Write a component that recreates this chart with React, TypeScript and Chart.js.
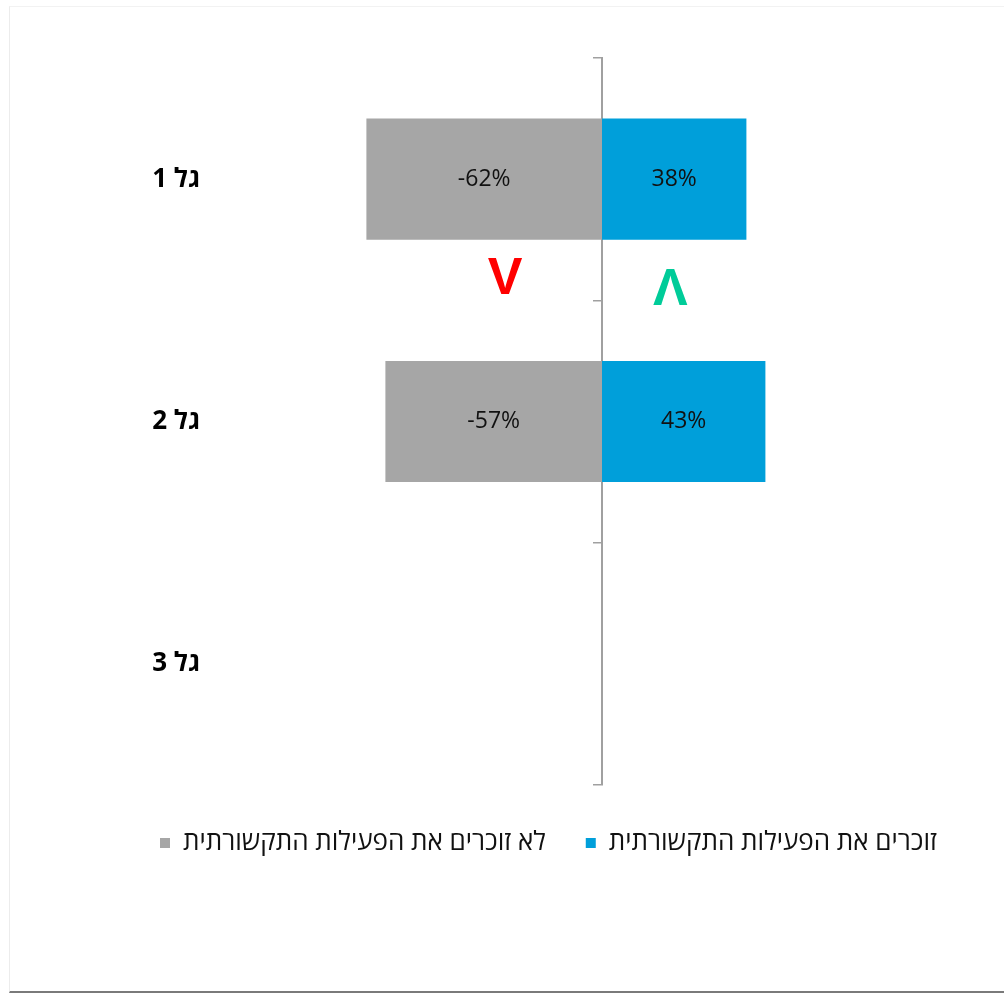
import React, { useEffect, useRef } from 'react';
import { Chart, registerables } from 'chart.js';

Chart.register(...registerables);

const categories = ['גל 1', 'גל 2', 'גל 3'];
const seriesNames = ['לא זוכרים את הפעילות התקשורתית', 'זוכרים את הפעילות התקשורתית'];
const notRememberValues: (number | null)[] = [-62, -57, null];
const rememberValues: (number | null)[] = [38, 43, null];
const seriesColors = ['#a6a6a6', '#009fda'];
const axisMin = -100;
const axisMax = 100;

// change markers (text glyphs) between wave 1 and wave 2, in data units
const markTexts = ['V', 'Λ'];
const markColors = ['#ff0000', '#00cc99'];
const markXValues = [-25.5, 18];
const markYIndex = [0.413, 0.46];

const valueLabelPlugin = {
  id: 'valueLabels',
  afterDatasetsDraw(chart: any) {
    const ctx = chart.ctx;
    ctx.save();
    ctx.direction = 'ltr';
    ctx.font = '23px "Open Sans", "Noto Sans", sans-serif';
    ctx.fillStyle = '#111';
    ctx.textAlign = 'center';
    ctx.textBaseline = 'middle';
    chart.data.datasets.forEach((ds: any, di: number) => {
      const meta = chart.getDatasetMeta(di);
      meta.data.forEach((el: any, i: number) => {
        const v = ds.data[i];
        if (v === null || v === undefined) return;
        const cx = (el.x + el.base) / 2;
        ctx.fillText(v + '%', cx, el.y);
      });
    });
    ctx.restore();
  },
};

const markPlugin = {
  id: 'changeMarks',
  afterDraw(chart: any) {
    const ctx = chart.ctx;
    const xs = chart.scales.x;
    const ys = chart.scales.y;
    ctx.save();
    ctx.direction = 'ltr';
    ctx.font = 'bold 52px "Liberation Sans", Arial, sans-serif';
    ctx.textAlign = 'center';
    ctx.textBaseline = 'middle';
    markTexts.forEach((t, i) => {
      ctx.fillStyle = markColors[i];
      ctx.fillText(t, xs.getPixelForValue(markXValues[i]), ys.getPixelForValue(markYIndex[i]));
    });
    ctx.restore();
  },
};

export default function App() {
  const canvasRef = useRef<HTMLCanvasElement | null>(null);

  useEffect(() => {
    if (!canvasRef.current) return;
    const chart = new Chart(canvasRef.current, {
      type: 'bar',
      data: {
        labels: categories,
        datasets: [
          {
            label: seriesNames[0],
            data: notRememberValues,
            backgroundColor: seriesColors[0],
            borderWidth: 0,
            barPercentage: 0.5,
            categoryPercentage: 1,
            yAxisID: 'y',
          },
          {
            label: seriesNames[1],
            data: rememberValues,
            backgroundColor: seriesColors[1],
            borderWidth: 0,
            barPercentage: 0.5,
            categoryPercentage: 1,
            yAxisID: 'y',
          },
        ],
      },
      options: {
        indexAxis: 'y',
        animation: false,
        responsive: false,
        maintainAspectRatio: false,
        layout: { padding: { left: 110, right: 22, top: 51, bottom: 125 } },
        scales: {
          x: {
            type: 'linear',
            min: axisMin,
            max: axisMax,
            stacked: true,
            grid: { display: false },
            border: { display: false },
            ticks: { display: false },
            afterFit: (s: any) => {
              s.height = 5;
            },
          },
          y: {
            type: 'category',
            position: 'left',
            stacked: true,
            grid: { display: false, drawTicks: false },
            border: { display: false },
            ticks: {
              color: '#000',
              padding: 22,
              font: { family: '"Open Sans", "Noto Sans", sans-serif', size: 26, weight: 'bold' },
            },
            afterFit: (s: any) => {
              s.width = 102;
            },
          },
          yc: {
            type: 'category',
            labels: categories,
            position: { x: 0 } as any,
            offset: true,
            grid: {
              drawOnChartArea: false,
              offset: true,
              tickLength: 8,
              color: '#a0a0a0',
              lineWidth: 1.5,
            },
            border: { color: '#a0a0a0', width: 2 },
            ticks: { display: false },
          },
        },
        plugins: {
          tooltip: { enabled: false },
          legend: {
            position: 'bottom',
            align: 'start',
            rtl: false,
            textDirection: 'rtl',
            labels: {
              boxWidth: 10,
              boxHeight: 10,
              padding: 40,
              color: '#111',
              font: { family: '"Open Sans", "Noto Sans", sans-serif', size: 26 },
            },
          },
        },
      },
      plugins: [valueLabelPlugin, markPlugin],
    } as any);
    return () => chart.destroy();
  }, []);

  return (
    <div
      style={{
        position: 'absolute',
        left: 9,
        top: 6,
        width: 995,
        height: 984,
        borderLeft: '1px solid #ececec',
        borderTop: '1px solid #f2f2f2',
        borderBottom: '2px solid #7a7a7a',
        background: '#fff',
        boxSizing: 'content-box',
      }}
    >
      <canvas
        ref={canvasRef}
        width={994}
        height={984}
        style={{ display: 'block', width: 994, height: 984, direction: 'rtl' }}
      />
    </div>
  );
}
